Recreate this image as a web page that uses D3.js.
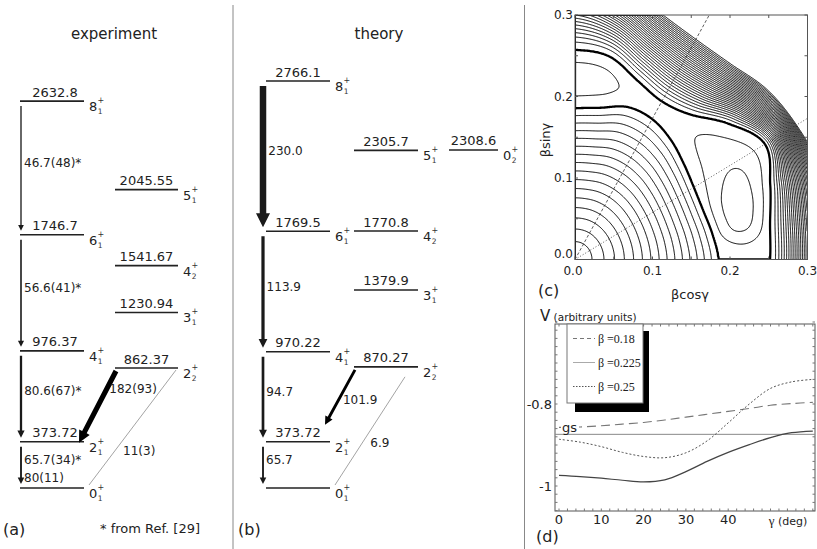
<!DOCTYPE html>
<html>
<head>
<meta charset="utf-8">
<script src="https://cdn.jsdelivr.net/npm/d3@7/dist/d3.min.js"></script>
<style>
  body { margin: 0; background: #fff; }
  svg { display: block; font-family: "DejaVu Sans", sans-serif; }
</style>
</head>
<body>
<svg id="fig" width="817" height="549"></svg>
<script>
// ---- level schemes, energies in keV ----
var expEnergy = [2632.8, 2045.55, 1746.7, 1541.67, 1230.94, 976.37, 862.37, 373.72, 0];
var expSpin   = ["8", "5", "6", "4", "3", "4", "2", "2", "0"];
var expIndex  = [1, 1, 1, 2, 1, 1, 2, 1, 1];
var expColumn = [0, 1, 0, 1, 1, 0, 1, 0, 0];

var thEnergy = [2766.1, 2305.7, 2308.6, 1769.5, 1770.8, 1379.9, 970.22, 870.27, 373.72, 0];
var thSpin   = ["8", "5", "0", "6", "4", "3", "4", "2", "2", "0"];
var thIndex  = [1, 1, 2, 1, 2, 1, 1, 2, 1, 1];
var thColumn = [0, 1, 2, 0, 1, 1, 0, 1, 0, 0];

// E2 transitions, B(E2) in W.u.
var expTrFrom  = ["8_1", "6_1", "4_1", "2_1", "2_2", "2_2"];
var expTrTo    = ["6_1", "4_1", "2_1", "0_1", "2_1", "0_1"];
var expTrBE2   = [46.7, 56.6, 80.6, 65.7, 182, 11];
var expTrLabel = [["46.7(48)*"], ["56.6(41)*"], ["80.6(67)*"], ["65.7(34)*", "80(11)"], ["182(93)"], ["11(3)"]];

var thTrFrom  = ["8_1", "6_1", "4_1", "2_1", "2_2", "2_2"];
var thTrTo    = ["6_1", "4_1", "2_1", "0_1", "2_1", "0_1"];
var thTrBE2   = [230.0, 113.9, 94.7, 65.7, 101.9, 6.9];
var thTrLabel = [["230.0"], ["113.9"], ["94.7"], ["65.7"], ["101.9"], ["6.9"]];

// ---- (c) potential map, shape (beta vs gamma in deg) ----
var mapTicks    = [0, 0.1, 0.2, 0.3];
var innerEdge   = [0.185, 0.180, 0.176, 0.177, 0.183, 0.192, 0.199, 0.199, 0.189, 0.1855]; // every 10 deg
var outerEdge   = [0.252, 0.2555, 0.268, 0.283, 0.259, 0.232, 0.224, 0.234, 0.253, 0.257];
var wallEdge    = [0.331, 0.333, 0.335, 0.330, 0.324, 0.313, 0.312, 0.322, 0.345, 0.373];
var pocketDepth = [0.2, 1.0, 2.15, 2.5, 2.5, 2.25, 1.9, 1.5, 1.2, 0.95, 0.75, 0.62, 0.55,
                   0.6, 0.75, 1.0, 1.3, 1.45, 1.5];                                    // every 5 deg
var innerLevels = 16, outerLevels = 32;

// ---- (d) potential along gamma ----
var gammaDeg  = [0, 5, 10, 15, 20, 25, 30, 35, 40, 45, 50, 55, 60];
var vBeta018  = [-0.857, -0.856, -0.853, -0.849, -0.845, -0.839, -0.832, -0.825, -0.818, -0.811, -0.803, -0.799, -0.796];
var vBeta0225 = [-0.974, -0.977, -0.981, -0.986, -0.990, -0.985, -0.965, -0.940, -0.918, -0.899, -0.882, -0.870, -0.866];
var vBeta025  = [-0.886, -0.893, -0.904, -0.918, -0.928, -0.931, -0.919, -0.890, -0.846, -0.800, -0.762, -0.746, -0.740];
var curveNames = ["\u03b2 =0.18", "\u03b2 =0.225", "\u03b2 =0.25"];
var gsLevel = -0.874;
var gammaTicks = [0, 10, 20, 30, 40];
var vTicks = [-1, -0.8];

var svg = d3.select("#fig");

// separators
[233, 524.5].forEach(function (x) {
  svg.append("line").attr("x1", x).attr("x2", x).attr("y1", 5).attr("y2", 549)
    .attr("stroke", "#888").attr("stroke-width", 1);
});

// ================= level schemes =================
var yLevel = d3.scaleLinear().domain([0, 373.72, 2766.1]).range([488, 441.7, 81]);
var lineWidth = d3.scaleLinear().domain([0, 230]).range([0, 6.5]);

function arrowPath(x0, y0, x1, y1, w) {
  var L = Math.hypot(x1 - x0, y1 - y0), ux = (x1 - x0) / L, uy = (y1 - y0) / L, px = -uy, py = ux;
  var hh = 0.8 * w + 1.8, hl = 2 * hh, h = w / 2;
  var bx = x1 - ux * hl, by = y1 - uy * hl;
  var pts = [[x0 + px * h, y0 + py * h], [bx + px * h, by + py * h], [bx + px * hh, by + py * hh], [x1, y1],
             [bx - px * hh, by - py * hh], [bx - px * h, by - py * h], [x0 - px * h, y0 - py * h]];
  return "M" + pts.map(function (p) { return p[0].toFixed(2) + "," + p[1].toFixed(2); }).join("L") + "Z";
}

var schemes = [
  { title: "experiment", titleX: 114, tag: "(a)", tagX: 3, cols: [[20, 84], [115, 178]],
    energy: expEnergy, spin: expSpin, index: expIndex, column: expColumn,
    from: expTrFrom, to: expTrTo, be2: expTrBE2, labels: expTrLabel,
    arrowX: 21, tipDy: 1, strongS: 0.25, strongDx: 0, thinStart: [-2, 2], thinS: 0.7, labelShift: 3 },
  { title: "theory", titleX: 379, tag: "(b)", tagX: 238, cols: [[266, 330], [354, 418], [449, 498]],
    energy: thEnergy, spin: thSpin, index: thIndex, column: thColumn,
    from: thTrFrom, to: thTrTo, be2: thTrBE2, labels: thTrLabel,
    arrowX: 263, tipDy: -17, strongS: 0.55, strongDx: 3, thinStart: [-13, 10], thinS: 0.61, labelShift: 0 }
];

schemes.forEach(function (p) {
  var g = svg.append("g");
  var key = {};
  g.append("text").attr("x", p.titleX).attr("y", 39).attr("text-anchor", "middle")
    .attr("font-size", 15).attr("fill", "#222").text(p.title);
  g.append("text").attr("x", p.tagX).attr("y", 535).attr("font-size", 16).attr("fill", "#222").text(p.tag);

  p.energy.forEach(function (e, i) {
    var c = p.cols[p.column[i]], y = yLevel(e);
    key[p.spin[i] + "_" + p.index[i]] = { x0: c[0], x1: c[1], y: y };
    g.append("line").attr("x1", c[0]).attr("x2", c[1]).attr("y1", y).attr("y2", y)
      .attr("stroke", "#222").attr("stroke-width", 1.6);
    if (e > 0) {
      g.append("text").attr("x", (c[0] + c[1]) / 2 + (p.column[i] === 0 ? p.labelShift : 0)).attr("y", y - 4.5)
        .attr("text-anchor", "middle").attr("font-size", 13).attr("fill", "#222").text(String(e));
    }
    g.append("text").attr("x", c[1] + 5).attr("y", y + 10).attr("font-size", 13).attr("fill", "#222").text(p.spin[i]);
    g.append("text").attr("x", c[1] + 13.6).attr("y", y + 2).attr("font-size", 8).attr("fill", "#333").text("+");
    g.append("text").attr("x", c[1] + 13.8).attr("y", y + 13).attr("font-size", 7.5).attr("fill", "#333").text(p.index[i]);
  });

  p.from.forEach(function (f, i) {
    var a = key[f], b = key[p.to[i]], w = lineWidth(p.be2[i]);
    var lines = p.labels[i], lx, ly;
    if (w < 1) {
      var sx = a.x1 + p.thinStart[0], sy = a.y + p.thinStart[1], ex = b.x1 + 5, ey = b.y - 3;
      g.append("line").attr("x1", sx).attr("y1", sy).attr("x2", ex).attr("y2", ey)
        .attr("stroke", "#999").attr("stroke-width", 0.9);
      lx = sx + (ex - sx) * p.thinS + 8; ly = sy + (ey - sy) * p.thinS;
    } else if (a.x0 === b.x0) {
      g.append("path").attr("d", arrowPath(p.arrowX, a.y + 5, p.arrowX, b.y - 4, Math.max(w, 1.2)))
        .attr("fill", "#1a1a1a");
      lx = p.arrowX + Math.max(w / 2, 1) + 2; ly = (a.y + b.y) / 2 - 5;
    } else {
      var x0 = a.x0 + 1, y0 = a.y + 3, x1 = b.x1 - 5, y1 = b.y + p.tipDy;
      g.append("path").attr("d", arrowPath(x0, y0, x1, y1, w)).attr("fill", "#000");
      lx = x0 + (x1 - x0) * p.strongS + w / 2 + p.strongDx; ly = y0 + (y1 - y0) * p.strongS;
    }
    lines.forEach(function (s, k) {
      g.append("text").attr("x", lx).attr("y", ly + k * 18).attr("dy", "0.35em")
        .attr("font-size", 12).attr("fill", "#222").text(s);
    });
  });
});

svg.append("text").attr("x", 100).attr("y", 533).attr("font-size", 13).attr("fill", "#222").text("* from Ref. [29]");

// ================= (c) contour map =================
var cx = d3.scaleLinear().domain([0, 0.3]).range([575, 807.5]);
var cy = d3.scaleLinear().domain([0, 0.3]).range([259.5, 15]);
var centreRadius = 0.185;

function smoothAt(knots, step, g) {
  var n = knots.length, f = Math.max(0, Math.min(g / step, n - 1));
  var i = Math.min(n - 2, Math.floor(f)), t = f - i;
  var p0 = knots[Math.max(0, i - 1)], p1 = knots[i], p2 = knots[i + 1], p3 = knots[Math.min(n - 1, i + 2)];
  var t2 = t * t, t3 = t2 * t;
  return 0.5 * (2 * p1 + (p2 - p0) * t + (2 * p0 - 5 * p1 + 4 * p2 - p3) * t2 + (3 * p1 - p0 - 3 * p2 + p3) * t3);
}

function potential(x, y) {
  var b = Math.hypot(x, y), g = Math.atan2(y, x) * 180 / Math.PI;
  var rIn = smoothAt(innerEdge, 10, g), rOut = smoothAt(outerEdge, 10, g), rWall = smoothAt(wallEdge, 10, g);
  if (b <= rIn) {
    var rMix = centreRadius + (rIn - centreRadius) * Math.pow(b / rIn, 2);
    return innerLevels * (1 - Math.pow(b / rMix, 1.3));
  }
  if (b < rOut) {
    var t = (b - rIn) / (rOut - rIn);
    return -smoothAt(pocketDepth, 5, g) * 4 * t * (1 - t);
  }
  return outerLevels * Math.pow((b - rOut) / (rWall - rOut), 1.4);
}

var gridN = 300, values = new Array(gridN * gridN);
for (var j = 0; j < gridN; j++) {
  for (var i = 0; i < gridN; i++) {
    values[j * gridN + i] = -potential((i + 0.5) / gridN * 0.3, (j + 0.5) / gridN * 0.3);
  }
}
var levels = d3.range(-2, outerLevels + 1);
var contours = d3.contours().size([gridN, gridN]).thresholds(levels.map(function (k) { return -k; }))(values);
var gridToPx = d3.geoTransform({
  point: function (x, y) { this.stream.point(cx(x / gridN * 0.3), cy(y / gridN * 0.3)); }
});
var mapPath = d3.geoPath(gridToPx);

svg.append("clipPath").attr("id", "mapClip").append("rect")
  .attr("x", cx(0)).attr("y", cy(0.3)).attr("width", cx(0.3) - cx(0)).attr("height", cy(0) - cy(0.3));
var gc = svg.append("g");
gc.append("g").attr("clip-path", "url(#mapClip)").selectAll("path").data(contours).join("path")
  .attr("d", mapPath).attr("fill", "none").attr("stroke", "#000")
  .attr("stroke-width", function (d) { return d.value === 0 ? 2.3 : 1; });

// gamma = 60 and 30 deg guide lines
gc.append("line").attr("x1", cx(0)).attr("y1", cy(0)).attr("x2", cx(0.3 / Math.tan(Math.PI / 3))).attr("y2", cy(0.3))
  .attr("stroke", "#333").attr("stroke-width", 0.8).attr("stroke-dasharray", "3,2");
gc.append("line").attr("x1", cx(0)).attr("y1", cy(0)).attr("x2", cx(0.3)).attr("y2", cy(0.3 * Math.tan(Math.PI / 6)))
  .attr("stroke", "#333").attr("stroke-width", 0.8).attr("stroke-dasharray", "1,2");

gc.append("rect").attr("x", cx(0)).attr("y", cy(0.3)).attr("width", cx(0.3) - cx(0)).attr("height", cy(0) - cy(0.3))
  .attr("fill", "none").attr("stroke", "#555").attr("stroke-width", 1);
d3.range(0, 0.301, 0.05).forEach(function (v) {
  gc.append("line").attr("x1", cx(v)).attr("x2", cx(v)).attr("y1", cy(0)).attr("y2", cy(0) - 3).attr("stroke", "#555");
  gc.append("line").attr("x1", cx(v)).attr("x2", cx(v)).attr("y1", cy(0.3)).attr("y2", cy(0.3) + 3).attr("stroke", "#555");
  gc.append("line").attr("x1", cx(0)).attr("x2", cx(0) + 3).attr("y1", cy(v)).attr("y2", cy(v)).attr("stroke", "#555");
  gc.append("line").attr("x1", cx(0.3)).attr("x2", cx(0.3) - 3).attr("y1", cy(v)).attr("y2", cy(v)).attr("stroke", "#555");
});
mapTicks.forEach(function (v) {
  gc.append("text").attr("x", cx(v) - (v === 0 ? 2 : 0)).attr("y", 270.5).attr("dy", "0.35em").attr("text-anchor", "middle")
    .attr("font-size", 12).attr("fill", "#222").text(v.toFixed(1));
  gc.append("text").attr("x", 573).attr("y", cy(v) - (v === 0 ? 5.5 : 0)).attr("dy", "0.35em").attr("text-anchor", "end")
    .attr("font-size", 12).attr("fill", "#222").text(v.toFixed(1));
});
gc.append("text").attr("x", 690).attr("y", 294).attr("dy", "0.35em").attr("text-anchor", "middle")
  .attr("font-size", 13).attr("fill", "#222").text("\u03b2cos\u03b3");
gc.append("text").attr("transform", "translate(545,140) rotate(-90)").attr("dy", "0.35em").attr("text-anchor", "middle")
  .attr("font-size", 13).attr("fill", "#222").text("\u03b2sin\u03b3");
gc.append("text").attr("x", 538).attr("y", 296).attr("font-size", 16).attr("fill", "#222").text("(c)");

// ================= (d) potential vs gamma =================
var dx = d3.scaleLinear().domain([0, 60]).range([559, 812.8]);
var dy = d3.scaleLinear().domain([-1, -0.8]).range([486, 404]);
var frame = { x0: 555, x1: 815, y0: 324, y1: 511 };
var gd = svg.append("g");

gd.append("rect").attr("x", frame.x0).attr("y", frame.y0).attr("width", frame.x1 - frame.x0).attr("height", frame.y1 - frame.y0)
  .attr("fill", "none").attr("stroke", "#555").attr("stroke-width", 1);
d3.range(0, 61, 2).forEach(function (v) {
  gd.append("line").attr("x1", dx(v)).attr("x2", dx(v)).attr("y1", frame.y1).attr("y2", frame.y1 - 2.5).attr("stroke", "#777");
  gd.append("line").attr("x1", dx(v)).attr("x2", dx(v)).attr("y1", frame.y0).attr("y2", frame.y0 + 2.5).attr("stroke", "#777");
});
d3.range(-1.06, -0.6, 0.02).forEach(function (v) {
  gd.append("line").attr("x1", frame.x0).attr("x2", frame.x0 + 2.5).attr("y1", dy(v)).attr("y2", dy(v)).attr("stroke", "#777");
  gd.append("line").attr("x1", frame.x1).attr("x2", frame.x1 - 2.5).attr("y1", dy(v)).attr("y2", dy(v)).attr("stroke", "#777");
});
gammaTicks.forEach(function (v) {
  gd.append("text").attr("x", dx(v)).attr("y", 519).attr("dy", "0.35em").attr("text-anchor", "middle")
    .attr("font-size", 13).attr("fill", "#222").text(v);
});
vTicks.forEach(function (v) {
  gd.append("text").attr("x", 552).attr("y", dy(v)).attr("dy", "0.35em").attr("text-anchor", "end")
    .attr("font-size", 13).attr("fill", "#222").text(String(v));
});
var gl = gd.append("text").attr("x", 788).attr("y", 519).attr("dy", "0.35em").attr("text-anchor", "middle").attr("fill", "#222");
gl.append("tspan").attr("font-size", 13).attr("font-family", "Liberation Serif, serif").text("\u03b3");
gl.append("tspan").attr("font-size", 11).text(" (deg)");
var vl = gd.append("text").attr("x", 540).attr("y", 315).attr("dy", "0.35em").attr("fill", "#222");
vl.append("tspan").attr("font-size", 15).text("V");
vl.append("tspan").attr("font-size", 10.5).text(" (arbitrary units)");
gd.append("text").attr("x", 536).attr("y", 542).attr("font-size", 16).attr("fill", "#222").text("(d)");

// ground state
gd.append("line").attr("x1", frame.x0).attr("x2", frame.x1).attr("y1", dy(gsLevel)).attr("y2", dy(gsLevel))
  .attr("stroke", "#888").attr("stroke-width", 1);

var curveStyles = [
  { stroke: "#777", width: 1.1, dash: "9,5", legendDash: "4,3" },
  { stroke: "#444", width: 1.2, dash: null, legendDash: null, legendStroke: "#aaa" },
  { stroke: "#555", width: 1.0, dash: "2,2", legendDash: "1.5,1.5" }
];
var series = [vBeta018, vBeta0225, vBeta025];
var vLine = d3.line().x(function (d, i) { return dx(gammaDeg[i]); }).y(function (d) { return dy(d); })
  .curve(d3.curveCatmullRom);
series.forEach(function (s, k) {
  gd.append("path").attr("d", vLine(s)).attr("fill", "none").attr("stroke", curveStyles[k].stroke)
    .attr("stroke-width", curveStyles[k].width).attr("stroke-dasharray", curveStyles[k].dash);
});

// gs label with white background
gd.append("rect").attr("x", 561).attr("y", 421).attr("width", 18).attr("height", 11).attr("fill", "#fff");
gd.append("text").attr("x", 562).attr("y", 427).attr("dy", "0.35em").attr("font-size", 13).attr("fill", "#222").text("gs");

// legend with drop shadow
gd.append("rect").attr("x", 575).attr("y", 331).attr("width", 74).attr("height", 81).attr("fill", "#000");
gd.append("rect").attr("x", 567).attr("y", 324).attr("width", 76).attr("height", 79).attr("fill", "#fff")
  .attr("stroke", "#777").attr("stroke-width", 1);
curveNames.forEach(function (name, k) {
  var y = 338.5 + k * 24;
  gd.append("line").attr("x1", 573).attr("x2", 595).attr("y1", y).attr("y2", y)
    .attr("stroke", curveStyles[k].legendStroke || curveStyles[k].stroke).attr("stroke-width", 1)
    .attr("stroke-dasharray", curveStyles[k].legendDash);
  gd.append("text").attr("x", 598).attr("y", y).attr("dy", "0.35em").attr("font-size", 12)
    .attr("font-family", "Liberation Serif, serif").attr("fill", "#222").text(name);
});
</script>
</body>
</html>
